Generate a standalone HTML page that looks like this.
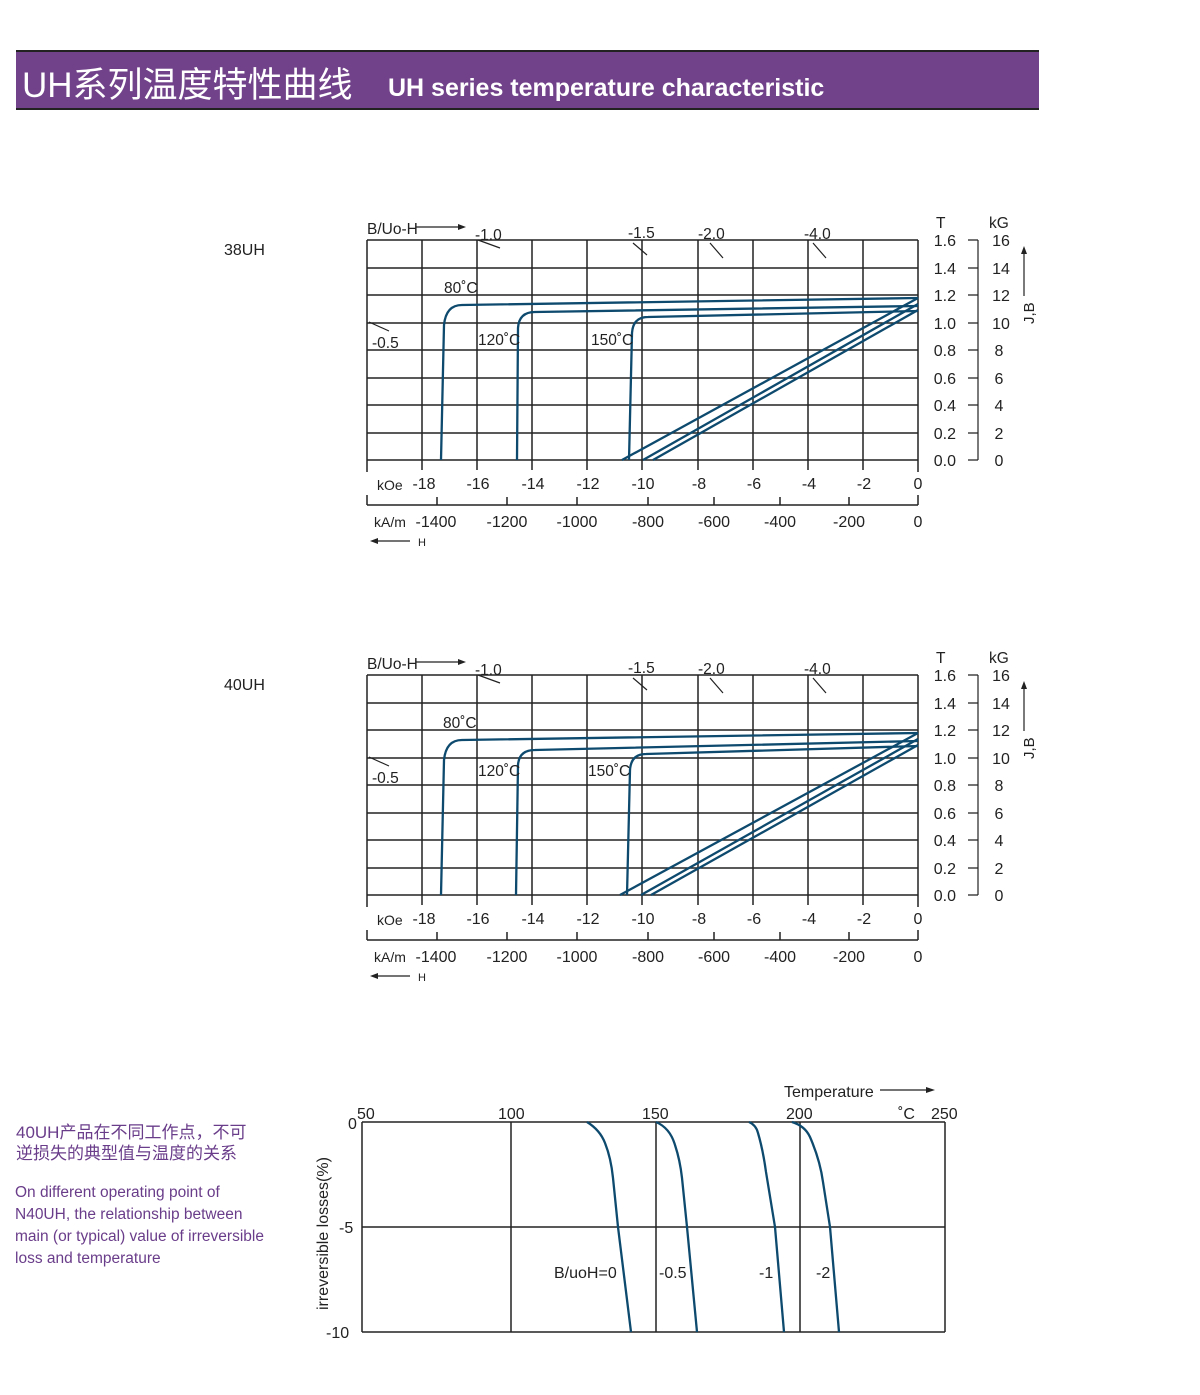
<!DOCTYPE html>
<html><head><meta charset="utf-8"><style>
body{margin:0;background:#fff;width:1200px;height:1395px;overflow:hidden;font-family:"Liberation Sans","Noto Sans CJK SC",sans-serif}
svg{position:absolute;left:0;top:0}
</style></head><body>
<svg width="1200" height="1395" viewBox="0 0 1200 1395" font-family="Liberation Sans, Noto Sans CJK SC, sans-serif">
<rect x="16" y="51" width="1023" height="58" fill="#71428a"/>
<line x1="16" y1="51" x2="1039" y2="51" stroke="#222" stroke-width="2"/>
<line x1="16" y1="109" x2="1039" y2="109" stroke="#222" stroke-width="2"/>
<text x="22" y="97" fill="#fff" font-size="35" font-family="Liberation Sans, Noto Sans CJK SC, sans-serif">UH系列温度特性曲线</text>
<text x="388" y="96" fill="#fff" font-size="25" font-weight="bold">UH series temperature characteristic</text>

<text x="224" y="255" font-size="16" fill="#222">38UH</text>
<text x="224" y="690" font-size="16" fill="#222">40UH</text>

<g id="c1">
<g stroke="#222" stroke-width="1.5" fill="none">
<path d="M367,240H918M367,268H918M367,295H918M367,323H918M367,350H918M367,378H918M367,405H918M367,433H918M367,460H918"/>
<path d="M367,240V472M422,240V470M477,240V470M532,240V470M587,240V470M642,240V470M698,240V470M753,240V470M808,240V470M863,240V470M918,240V472"/>
<path d="M367,505H918M367,495V505M437,497V505M507,497V505M577,497V505M648,497V505M714,497V505M780,497V505M849,497V505M918,495V505"/>
<path d="M978,240V460M968,240H978M968,268H978M968,295H978M968,323H978M968,350H978M968,378H978M968,405H978M968,433H978M968,460H978" stroke-width="1.2"/>
<path d="M1024,296V252" stroke-width="1.2"/>
<path d="M478,240L500,248M633,243L647,255M710,243L723,258M813,243L826,258M369,322L389,331" stroke-width="1.2"/>
<path d="M416,227H458" stroke-width="1.2"/>
<path d="M378,541H410" stroke-width="1.2"/>
</g>
<path d="M458,224L466,227L458,230Z M378,538L370,541L378,544Z M1021,254L1024,246L1027,254Z" fill="#222"/>
<g stroke="#0d4a6e" stroke-width="2.3" fill="none">
<path d="M441,460L444,325Q446,305 462,305L918,298"/>
<path d="M517,460L518,328Q519,312 535,312L918,306"/>
<path d="M629,460L632,333Q633,317 648,317L918,311"/>
<path d="M622,460L918,298M643,460L918,304M653,460L918,310"/>
</g>
<g font-size="15.5" fill="#222">
<text x="367" y="234">B/Uo-H</text>
<text x="475" y="240">-1.0</text>
<text x="628" y="238">-1.5</text>
<text x="698" y="239">-2.0</text>
<text x="804" y="239">-4.0</text>
<text x="372" y="348">-0.5</text>
<text x="444" y="293">80˚C</text>
<text x="478" y="345">120˚C</text>
<text x="591" y="345">150˚C</text>
<text x="936" y="228">T</text>
<text x="989" y="228">kG</text>
</g>
<g font-size="16" fill="#222" text-anchor="end">
<text x="956" y="246">1.6</text><text x="956" y="274">1.4</text><text x="956" y="301">1.2</text><text x="956" y="329">1.0</text><text x="956" y="356">0.8</text><text x="956" y="384">0.6</text><text x="956" y="411">0.4</text><text x="956" y="439">0.2</text><text x="956" y="466">0.0</text>
</g>
<g font-size="16" fill="#222" text-anchor="middle">
<text x="1001" y="246">16</text><text x="1001" y="274">14</text><text x="1001" y="301">12</text><text x="1001" y="329">10</text><text x="999" y="356">8</text><text x="999" y="384">6</text><text x="999" y="411">4</text><text x="999" y="439">2</text><text x="999" y="466">0</text>
<text x="424" y="489">-18</text><text x="478" y="489">-16</text><text x="533" y="489">-14</text><text x="588" y="489">-12</text><text x="643" y="489">-10</text><text x="699" y="489">-8</text><text x="754" y="489">-6</text><text x="809" y="489">-4</text><text x="864" y="489">-2</text><text x="918" y="489">0</text>
<text x="436" y="527">-1400</text><text x="507" y="527">-1200</text><text x="577" y="527">-1000</text><text x="648" y="527">-800</text><text x="714" y="527">-600</text><text x="780" y="527">-400</text><text x="849" y="527">-200</text><text x="918" y="527">0</text>
</g>
<text x="377" y="490" font-size="14" fill="#222">kOe</text>
<text x="374" y="527" font-size="14" fill="#222">kA/m</text>
<text x="418" y="546" font-size="11" fill="#222">H</text>
<text transform="translate(1034,324) rotate(-90)" font-size="15" fill="#222">J,B</text>
</g>

<g transform="translate(0,435)">
<g stroke="#222" stroke-width="1.5" fill="none">
<path d="M367,240H918M367,268H918M367,295H918M367,323H918M367,350H918M367,378H918M367,405H918M367,433H918M367,460H918"/>
<path d="M367,240V472M422,240V470M477,240V470M532,240V470M587,240V470M642,240V470M698,240V470M753,240V470M808,240V470M863,240V470M918,240V472"/>
<path d="M367,505H918M367,495V505M437,497V505M507,497V505M577,497V505M648,497V505M714,497V505M780,497V505M849,497V505M918,495V505"/>
<path d="M978,240V460M968,240H978M968,268H978M968,295H978M968,323H978M968,350H978M968,378H978M968,405H978M968,433H978M968,460H978" stroke-width="1.2"/>
<path d="M1024,296V252" stroke-width="1.2"/>
<path d="M478,240L500,248M633,243L647,255M710,243L723,258M813,243L826,258M369,322L389,331" stroke-width="1.2"/>
<path d="M416,227H458" stroke-width="1.2"/>
<path d="M378,541H410" stroke-width="1.2"/>
</g>
<path d="M458,224L466,227L458,230Z M378,538L370,541L378,544Z M1021,254L1024,246L1027,254Z" fill="#222"/>
<g stroke="#0d4a6e" stroke-width="2.3" fill="none">
<path d="M441,460L444,325Q446,305 462,305L918,298"/>
<path d="M516,460L518,330Q519,315 535,315L918,306"/>
<path d="M627,460L630,335Q631,319 646,319L918,311"/>
<path d="M620,460L918,298M641,460L918,304M651,460L918,310"/>
</g>
<g font-size="15.5" fill="#222">
<text x="367" y="234">B/Uo-H</text>
<text x="475" y="240">-1.0</text>
<text x="628" y="238">-1.5</text>
<text x="698" y="239">-2.0</text>
<text x="804" y="239">-4.0</text>
<text x="372" y="348">-0.5</text>
<text x="443" y="293">80˚C</text>
<text x="478" y="341">120˚C</text>
<text x="588" y="341">150˚C</text>
<text x="936" y="228">T</text>
<text x="989" y="228">kG</text>
</g>
<g font-size="16" fill="#222" text-anchor="end">
<text x="956" y="246">1.6</text><text x="956" y="274">1.4</text><text x="956" y="301">1.2</text><text x="956" y="329">1.0</text><text x="956" y="356">0.8</text><text x="956" y="384">0.6</text><text x="956" y="411">0.4</text><text x="956" y="439">0.2</text><text x="956" y="466">0.0</text>
</g>
<g font-size="16" fill="#222" text-anchor="middle">
<text x="1001" y="246">16</text><text x="1001" y="274">14</text><text x="1001" y="301">12</text><text x="1001" y="329">10</text><text x="999" y="356">8</text><text x="999" y="384">6</text><text x="999" y="411">4</text><text x="999" y="439">2</text><text x="999" y="466">0</text>
<text x="424" y="489">-18</text><text x="478" y="489">-16</text><text x="533" y="489">-14</text><text x="588" y="489">-12</text><text x="643" y="489">-10</text><text x="699" y="489">-8</text><text x="754" y="489">-6</text><text x="809" y="489">-4</text><text x="864" y="489">-2</text><text x="918" y="489">0</text>
<text x="436" y="527">-1400</text><text x="507" y="527">-1200</text><text x="577" y="527">-1000</text><text x="648" y="527">-800</text><text x="714" y="527">-600</text><text x="780" y="527">-400</text><text x="849" y="527">-200</text><text x="918" y="527">0</text>
</g>
<text x="377" y="490" font-size="14" fill="#222">kOe</text>
<text x="374" y="527" font-size="14" fill="#222">kA/m</text>
<text x="418" y="546" font-size="11" fill="#222">H</text>
<text transform="translate(1034,324) rotate(-90)" font-size="15" fill="#222">J,B</text>
</g>

<!-- bottom chart -->
<g stroke="#222" stroke-width="1.5" fill="none">
<path d="M362,1122H945M362,1227H945M362,1332H945"/>
<path d="M362,1122V1332M511,1122V1332M656,1122V1332M800,1122V1332M945,1122V1332"/>
<path d="M880,1090H926" stroke-width="1.2"/>
</g>
<path d="M926,1087L935,1090L926,1093Z" fill="#222"/>
<g stroke="#0d4a6e" stroke-width="2.3" fill="none">
<path d="M587,1122Q600,1130 605,1143Q611,1158 613,1178L618,1227L631,1332"/>
<path d="M656,1122Q670,1128 675,1145Q680,1160 682,1178L687,1227L697,1332"/>
<path d="M749,1122Q756,1125 758,1133Q763,1150 766,1172L775,1227L784,1332"/>
<path d="M792,1122Q805,1126 810,1137Q820,1160 823,1182L830,1227L839,1332"/>
</g>
<g font-size="16" fill="#222">
<text x="784" y="1097">Temperature</text>
<text x="348" y="1129">0</text>
<text x="357" y="1119">50</text>
<text x="498" y="1119">100</text>
<text x="642" y="1119">150</text>
<text x="786" y="1119">200</text>
<text x="898" y="1119">˚C</text>
<text x="931" y="1119">250</text>
<text x="339" y="1233">-5</text>
<text x="326" y="1338">-10</text>
<text x="554" y="1278">B/uoH=0</text>
<text x="659" y="1278">-0.5</text>
<text x="759" y="1278">-1</text>
<text x="816" y="1278">-2</text>
<text transform="translate(328,1310) rotate(-90)">irreversible  losses(%)</text>
</g>

<g fill="#6a3d8a">
<text x="16" y="1138" font-size="17">40UH产品在不同工作点，不可</text>
<text x="16" y="1159" font-size="17">逆损失的典型值与温度的关系</text>
<text x="15" y="1197" font-size="15.5">On different operating point of</text>
<text x="15" y="1219" font-size="15.5">N40UH,  the relationship between</text>
<text x="15" y="1241" font-size="15.5">main (or typical) value of irreversible</text>
<text x="15" y="1263" font-size="15.5">loss and temperature</text>
</g>
</svg>
</body></html>
